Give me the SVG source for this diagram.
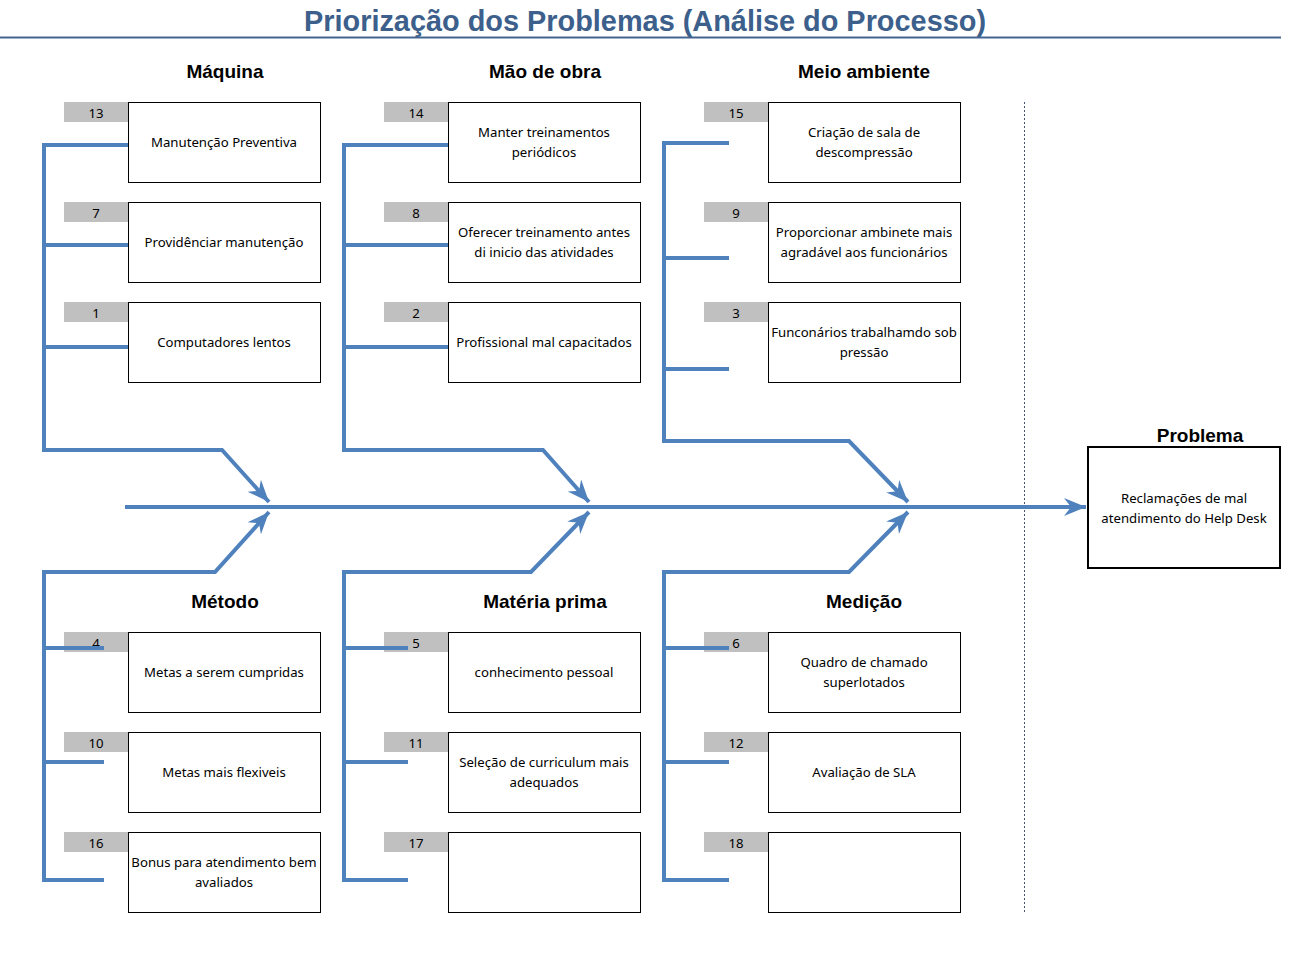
<svg xmlns="http://www.w3.org/2000/svg" width="1312" height="972" viewBox="0 0 1312 972">
<style>
.title{font-family:"Liberation Sans",Arial,sans-serif;font-weight:bold;font-size:30px;fill:#3D5F8C}
.hdr{font-family:"Liberation Sans",Arial,sans-serif;font-weight:bold;font-size:19px;fill:#000;text-anchor:middle}
.box{fill:#fff;stroke:#000;stroke-width:1}
.pbox{fill:#fff;stroke:#000;stroke-width:2}
.num{fill:#C0C0C0}
.t{font-family:"Noto Sans","DejaVu Sans",sans-serif;font-size:13.2px;fill:#000;text-anchor:middle;dominant-baseline:central}
.c{fill:none;stroke:#4F81BD;stroke-width:4;stroke-linejoin:miter}
</style>
<defs>
<marker id="ah" markerUnits="userSpaceOnUse" markerWidth="24" markerHeight="20" refX="22" refY="10" orient="auto">
<path d="M0,1 L22,10 L0,19 L7,10 z" fill="#4F81BD"/>
</marker>
</defs>
<rect width="1312" height="972" fill="#fff"/>
<g id="title">
<text class="title" x="304" y="31" textLength="682" lengthAdjust="spacingAndGlyphs">Priorização dos Problemas (Análise do Processo)</text>
<line x1="0" y1="37.5" x2="1281" y2="37.5" stroke="#44658F" stroke-width="2"/>
</g>
<g id="headers">
<text class="hdr" x="225" y="78">Máquina</text>
<text class="hdr" x="545" y="78">Mão de obra</text>
<text class="hdr" x="864" y="78">Meio ambiente</text>
<text class="hdr" x="225" y="608">Método</text>
<text class="hdr" x="545" y="608">Matéria prima</text>
<text class="hdr" x="864" y="608">Medição</text>
<text class="hdr" x="1200" y="442">Problema</text>
</g>
<line x1="1024.5" y1="102" x2="1024.5" y2="912" stroke="#44546A" stroke-width="1" stroke-dasharray="2,2"/>

<g id="n13"><rect class="num" x="64" y="102" width="64" height="20"/><text class="t" x="96" y="113">13</text><rect class="box" x="128.5" y="102.5" width="192" height="80"/><text class="t" x="224" y="142">Manutenção Preventiva</text></g>
<g id="n7"><rect class="num" x="64" y="202" width="64" height="20"/><text class="t" x="96" y="213">7</text><rect class="box" x="128.5" y="202.5" width="192" height="80"/><text class="t" x="224" y="242">Providênciar manutenção</text></g>
<g id="n1"><rect class="num" x="64" y="302" width="64" height="20"/><text class="t" x="96" y="313">1</text><rect class="box" x="128.5" y="302.5" width="192" height="80"/><text class="t" x="224" y="342">Computadores lentos</text></g>

<g id="n14"><rect class="num" x="384" y="102" width="64" height="20"/><text class="t" x="416" y="113">14</text><rect class="box" x="448.5" y="102.5" width="192" height="80"/><text class="t" x="544" y="132">Manter treinamentos</text><text class="t" x="544" y="152">periódicos</text></g>
<g id="n8"><rect class="num" x="384" y="202" width="64" height="20"/><text class="t" x="416" y="213">8</text><rect class="box" x="448.5" y="202.5" width="192" height="80"/><text class="t" x="544" y="232">Oferecer treinamento antes</text><text class="t" x="544" y="252">di inicio das atividades</text></g>
<g id="n2"><rect class="num" x="384" y="302" width="64" height="20"/><text class="t" x="416" y="313">2</text><rect class="box" x="448.5" y="302.5" width="192" height="80"/><text class="t" x="544" y="342">Profissional mal capacitados</text></g>

<g id="n15"><rect class="num" x="704" y="102" width="64" height="20"/><text class="t" x="736" y="113">15</text><rect class="box" x="768.5" y="102.5" width="192" height="80"/><text class="t" x="864" y="132">Criação de sala de</text><text class="t" x="864" y="152">descompressão</text></g>
<g id="n9"><rect class="num" x="704" y="202" width="64" height="20"/><text class="t" x="736" y="213">9</text><rect class="box" x="768.5" y="202.5" width="192" height="80"/><text class="t" x="864" y="232">Proporcionar ambinete mais</text><text class="t" x="864" y="252">agradável aos funcionários</text></g>
<g id="n3"><rect class="num" x="704" y="302" width="64" height="20"/><text class="t" x="736" y="313">3</text><rect class="box" x="768.5" y="302.5" width="192" height="80"/><text class="t" x="864" y="332">Funconários trabalhamdo sob</text><text class="t" x="864" y="352">pressão</text></g>

<g id="n4"><rect class="num" x="64" y="632" width="64" height="20"/><text class="t" x="96" y="643">4</text><rect class="box" x="128.5" y="632.5" width="192" height="80"/><text class="t" x="224" y="672">Metas a serem cumpridas</text></g>
<g id="n10"><rect class="num" x="64" y="732" width="64" height="20"/><text class="t" x="96" y="743">10</text><rect class="box" x="128.5" y="732.5" width="192" height="80"/><text class="t" x="224" y="772">Metas mais flexiveis</text></g>
<g id="n16"><rect class="num" x="64" y="832" width="64" height="20"/><text class="t" x="96" y="843">16</text><rect class="box" x="128.5" y="832.5" width="192" height="80"/><text class="t" x="224" y="862">Bonus para atendimento bem</text><text class="t" x="224" y="882">avaliados</text></g>

<g id="n5"><rect class="num" x="384" y="632" width="64" height="20"/><text class="t" x="416" y="643">5</text><rect class="box" x="448.5" y="632.5" width="192" height="80"/><text class="t" x="544" y="672">conhecimento pessoal</text></g>
<g id="n11"><rect class="num" x="384" y="732" width="64" height="20"/><text class="t" x="416" y="743">11</text><rect class="box" x="448.5" y="732.5" width="192" height="80"/><text class="t" x="544" y="762">Seleção de curriculum mais</text><text class="t" x="544" y="782">adequados</text></g>
<g id="n17"><rect class="num" x="384" y="832" width="64" height="20"/><text class="t" x="416" y="843">17</text><rect class="box" x="448.5" y="832.5" width="192" height="80"/></g>

<g id="n6"><rect class="num" x="704" y="632" width="64" height="20"/><text class="t" x="736" y="643">6</text><rect class="box" x="768.5" y="632.5" width="192" height="80"/><text class="t" x="864" y="662">Quadro de chamado</text><text class="t" x="864" y="682">superlotados</text></g>
<g id="n12"><rect class="num" x="704" y="732" width="64" height="20"/><text class="t" x="736" y="743">12</text><rect class="box" x="768.5" y="732.5" width="192" height="80"/><text class="t" x="864" y="772">Avaliação de SLA</text></g>
<g id="n18"><rect class="num" x="704" y="832" width="64" height="20"/><text class="t" x="736" y="843">18</text><rect class="box" x="768.5" y="832.5" width="192" height="80"/></g>

<g id="problem"><rect class="pbox" x="1088" y="447" width="192" height="121"/><text class="t" x="1184" y="498">Reclamações de mal</text><text class="t" x="1184" y="518">atendimento do Help Desk</text></g>

<g id="connectors">
<line class="c" x1="125" y1="507" x2="1086" y2="507" marker-end="url(#ah)"/>
<path class="c" d="M128,145 H44 V450 H222 L269,502" marker-end="url(#ah)"/>
<path class="c" d="M44,245 H128 M44,347 H128"/>
<path class="c" d="M104,880 H44 V572 H215 L269,512" marker-end="url(#ah)"/>
<path class="c" d="M44,648 H104 M44,762 H104"/>
<path class="c" d="M448,145 H344 V450 H543 L589,502" marker-end="url(#ah)"/>
<path class="c" d="M344,245 H448 M344,347 H448"/>
<path class="c" d="M408,880 H344 V572 H531 L589,512" marker-end="url(#ah)"/>
<path class="c" d="M344,648 H408 M344,762 H408"/>
<path class="c" d="M729,143 H664 V441 H849 L908,502" marker-end="url(#ah)"/>
<path class="c" d="M664,258 H729 M664,369 H729"/>
<path class="c" d="M729,880 H664 V572 H849 L908,512" marker-end="url(#ah)"/>
<path class="c" d="M664,648 H729 M664,762 H729"/>
</g>
</svg>
